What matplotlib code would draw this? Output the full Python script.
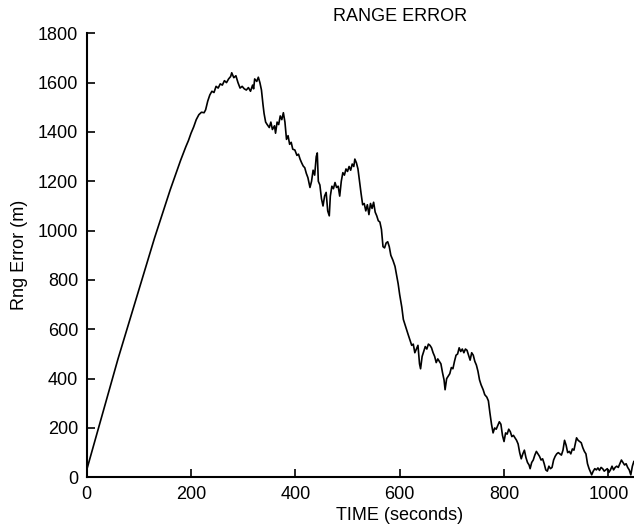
import matplotlib
matplotlib.use("Agg")
import matplotlib.pyplot as plt

plt.rcParams['font.family'] = ['Liberation Sans', 'DejaVu Sans']

time_s = [0, 10, 20, 30, 40, 50, 60, 70, 80, 90, 100, 110, 120, 130, 140, 150, 160, 170, 180, 190,
          195, 200, 205, 210, 215, 220, 225, 228, 232, 236, 240, 244, 248, 252, 256, 260, 264, 268, 272, 276,
          278, 282, 286, 290, 294, 298, 302, 306, 310, 314, 318, 320, 322, 326, 329, 332, 335, 338, 340, 343,
          346, 350, 353, 356, 360, 362, 365, 368, 371, 374, 377, 380, 383, 386, 389, 392, 395, 399, 403, 406,
          409, 412, 415, 418, 421, 424, 428, 431, 434, 437, 440, 442, 444, 447, 450, 453, 456, 459, 462, 465,
          467, 470, 473, 476, 479, 482, 485, 488, 491, 494, 497, 500, 503, 506, 509, 512, 514, 517, 520, 523,
          526, 529, 532, 535, 538, 541, 544, 547, 550, 553, 556, 559, 562, 565, 568, 571, 574, 577, 580, 583,
          587, 591, 594, 597, 600, 604, 607, 610, 613, 616, 620, 623, 626, 629, 632, 635, 638, 640, 643, 646,
          649, 652, 655, 658, 661, 664, 667, 670, 673, 676, 679, 682, 685, 687, 690, 693, 696, 699, 702, 705,
          708, 711, 714, 717, 720, 723, 726, 729, 732, 735, 738, 741, 744, 747, 750, 753, 756, 760, 763, 767,
          770, 773, 776, 779, 782, 785, 788, 791, 794, 797, 800, 803, 806, 809, 812, 815, 818, 821, 824, 827,
          830, 833, 836, 839, 842, 845, 848, 850, 853, 856, 859, 862, 865, 868, 871, 874, 877, 880, 883, 886,
          889, 892, 895, 898, 901, 904, 907, 910, 913, 916, 919, 922, 925, 928, 931, 934, 937, 939, 942, 945,
          948, 951, 954, 957, 960, 963, 966, 968, 971, 974, 977, 980, 983, 986, 989, 992, 995, 998, 1001, 1004,
          1007, 1010, 1013, 1016, 1019, 1022, 1025, 1028, 1031, 1034, 1037, 1040, 1043, 1046, 1049, 1052]

rng_error = [30, 105, 180, 255, 330, 405, 480, 550, 620, 690, 760, 830, 900, 970, 1035, 1100, 1165, 1225, 1285, 1340,
             1365, 1395, 1420, 1450, 1470, 1480, 1478, 1490, 1525, 1550, 1565, 1560, 1585, 1578, 1595, 1590, 1608, 1600, 1615, 1625,
             1640, 1620, 1628, 1600, 1578, 1585, 1575, 1570, 1580, 1565, 1590, 1575, 1615, 1605, 1622, 1600, 1570, 1510, 1475, 1440,
             1430, 1418, 1440, 1410, 1425, 1395, 1440, 1430, 1465, 1450, 1478, 1440, 1370, 1385, 1350, 1358, 1330, 1327, 1305, 1310,
             1290, 1275, 1262, 1255, 1232, 1215, 1175, 1200, 1245, 1225, 1300, 1315, 1200, 1185, 1130, 1100, 1140, 1155, 1080, 1060,
             1140, 1180, 1170, 1195, 1175, 1180, 1140, 1200, 1235, 1225, 1250, 1240, 1260, 1245, 1270, 1260, 1290, 1275, 1250, 1200,
             1150, 1105, 1110, 1080, 1105, 1065, 1110, 1090, 1115, 1075, 1060, 1040, 1035, 1005, 935, 930, 950, 955, 935, 900,
             880, 855, 820, 785, 740, 690, 640, 620, 600, 580, 555, 535, 540, 505, 520, 535, 460, 440, 490, 510,
             530, 520, 540, 535, 525, 505, 490, 465, 480, 470, 460, 425, 395, 355, 400, 410, 420, 445, 440, 470,
             495, 500, 525, 510, 520, 505, 520, 515, 495, 475, 505, 495, 470, 455, 430, 395, 375, 355, 335, 325,
             310, 260, 215, 180, 200, 195, 210, 225, 215, 170, 145, 180, 175, 195, 185, 165, 170, 160, 150, 135,
             100, 75, 95, 110, 80, 60, 50, 35, 60, 70, 90, 105, 95, 85, 70, 75, 55, 30, 25, 45,
             35, 40, 70, 85, 95, 100, 95, 90, 110, 150, 130, 100, 105, 95, 115, 110, 140, 160, 150, 145,
             140, 120, 105, 95, 55, 35, 20, 10, 25, 35, 30, 38, 28, 40, 35, 25, 30, 35, 20, 30,
             45, 30, 40, 45, 40, 55, 70, 60, 50, 55, 40, 30, 10, 45, 65, 60]

x_ticks = [0, 200, 400, 600, 800, 1000]
y_ticks = [0, 200, 400, 600, 800, 1000, 1200, 1400, 1600, 1800]

W, H = 634, 529
fig = plt.figure(figsize=(W / 100, H / 100), dpi=100)
left_px, bottom_px, width_px, height_px = 86.7, 51.7, 626.0, 444.0
ax = fig.add_axes([left_px / W, bottom_px / H, width_px / W, height_px / H])

ax.plot(time_s, rng_error, color='black', linewidth=1.2)

ax.set_xlim(0, 1200)
ax.set_ylim(0, 1800)
ax.set_xticks(x_ticks)
ax.set_yticks(y_ticks)
ax.spines['top'].set_visible(False)
ax.spines['right'].set_visible(False)
for s in ['left', 'bottom']:
    ax.spines[s].set_linewidth(1.5)
ax.tick_params(direction='in', length=6, width=1.2, labelsize=13, pad=6, colors='black')

ax.set_title('RANGE ERROR', fontsize=13, pad=9)
ax.set_xlabel('TIME (seconds)', fontsize=13, labelpad=3)
ax.set_ylabel('Rng Error (m)', fontsize=13, labelpad=7)

fig.savefig('out.png', dpi=100)
